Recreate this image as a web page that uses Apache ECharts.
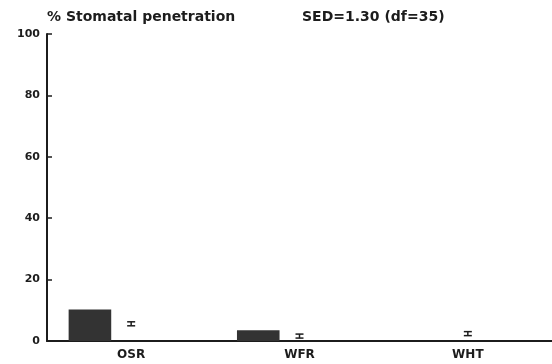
<!DOCTYPE html>
<html>
<head>
<meta charset="utf-8">
<script src="https://cdn.jsdelivr.net/npm/echarts@6/dist/echarts.min.js"></script>
<style>
html,body{margin:0;padding:0;background:#fff;}
#chart{width:552px;height:364px;}
</style>
</head>
<body>
<div id="chart"></div>
<script>
const categories = ['OSR', 'WFR', 'WHT'];
const penetration = [10.3, 3.5, 0];
const markerValues = [5.6, 1.6, 2.4];
const sed = 1.3;
const yTickValues = [0, 20, 40, 60, 80, 100];
const titleText = '% Stomatal penetration';
const sedText = 'SED=1.30 (df=35)';

const ink = '#1c1c1c';
const font = 'DejaVu Sans';

const chart = echarts.init(document.getElementById('chart'), null, {renderer: 'canvas'});

const barData = penetration.map((v, i) => [i, v]);
const markerData = markerValues.map((v, i) => [i, v]);

chart.setOption({
  backgroundColor: '#ffffff',
  animation: false,
  title: [
    {text: titleText, left: 42, top: 5, textStyle: {fontFamily: font, fontWeight: 'bold', fontSize: 14, color: ink}},
    {text: sedText, left: 297, top: 5, textStyle: {fontFamily: font, fontWeight: 'bold', fontSize: 14, color: ink}}
  ],
  grid: {left: 47, top: 34, width: 510, bottom: 23, containLabel: false},
  xAxis: {
    type: 'category',
    data: categories,
    boundaryGap: true,
    axisLine: {lineStyle: {color: ink, width: 2}},
    axisTick: {show: false},
    axisLabel: {fontFamily: font, fontWeight: 'bold', fontSize: 12, color: ink, margin: 8}
  },
  yAxis: {
    type: 'value',
    min: yTickValues[0],
    max: yTickValues[yTickValues.length - 1],
    interval: yTickValues[1] - yTickValues[0],
    splitLine: {show: false},
    axisLine: {show: true, lineStyle: {color: ink, width: 2}},
    axisTick: {show: true, inside: true, length: 5, lineStyle: {color: ink, width: 1.5}},
    axisLabel: {fontFamily: font, fontWeight: 'bold', fontSize: 11, color: ink, margin: 7}
  },
  series: [
    {
      type: 'custom',
      name: 'penetration',
      data: barData,
      encode: {x: 0, y: 1},
      renderItem: function (params, api) {
        const idx = api.value(0);
        const val = api.value(1);
        const top = api.coord([idx, val]);
        const base = api.coord([idx, 0]);
        const band = api.size([1, 0])[0];
        const w = band * 0.253;
        const cx = top[0] - band * 0.245;
        return {
          type: 'rect',
          shape: {x: cx - w / 2, y: top[1], width: w, height: base[1] - top[1]},
          style: {fill: '#333333'}
        };
      }
    },
    {
      type: 'custom',
      name: 'sed',
      data: markerData,
      encode: {x: 0, y: 1},
      renderItem: function (params, api) {
        const idx = api.value(0);
        const val = api.value(1);
        const hi = api.coord([idx, val + sed / 2]);
        const lo = api.coord([idx, val - sed / 2]);
        const x = hi[0];
        const cap = 4;
        const st = {stroke: ink, lineWidth: 1.5};
        return {
          type: 'group',
          children: [
            {type: 'line', shape: {x1: x, y1: hi[1], x2: x, y2: lo[1]}, style: st},
            {type: 'line', shape: {x1: x - cap, y1: hi[1], x2: x + cap, y2: hi[1]}, style: st},
            {type: 'line', shape: {x1: x - cap, y1: lo[1], x2: x + cap, y2: lo[1]}, style: st}
          ]
        };
      }
    }
  ]
});
</script>
</body>
</html>
